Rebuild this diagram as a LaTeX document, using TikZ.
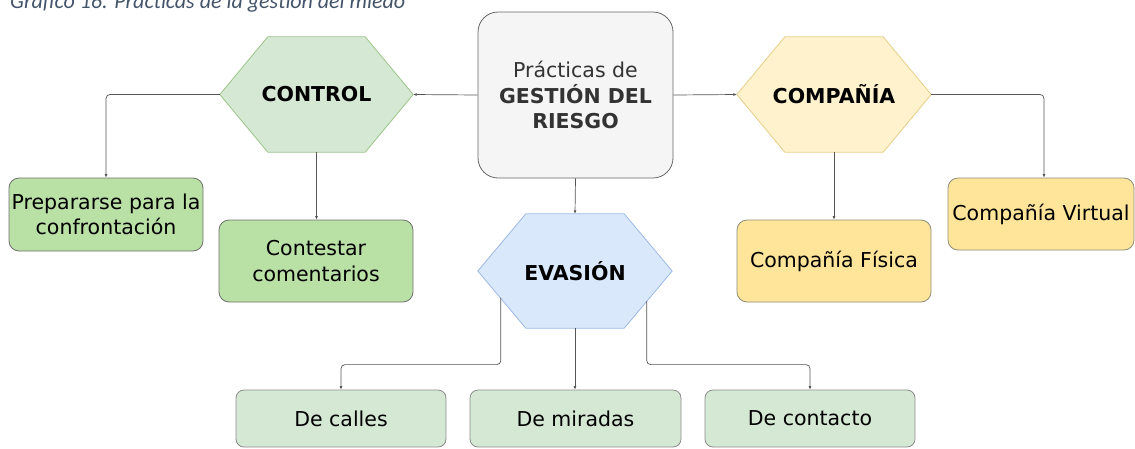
\documentclass[tikz,border=0pt]{standalone}
\usepackage{fontspec}
\setmainfont{DejaVu Sans}
\newfontfamily\titlefont{Carlito}
\usetikzlibrary{arrows.meta,calc,backgrounds}
\definecolor{centerfill}{HTML}{F5F5F5}
\definecolor{centerdraw}{HTML}{666666}
\definecolor{centertext}{HTML}{333333}
\definecolor{ctrlfill}{HTML}{D5E8D4}
\definecolor{ctrldraw}{HTML}{9CC488}
\definecolor{compfill}{HTML}{FFF2CC}
\definecolor{compdraw}{HTML}{E6CF8A}
\definecolor{evasfill}{HTML}{DAE8FC}
\definecolor{evasdraw}{HTML}{9DB9E6}
\definecolor{greenbox}{HTML}{B9E0A5}
\definecolor{greendraw}{HTML}{707070}
\definecolor{yellowbox}{HTML}{FFE599}
\definecolor{yellowdraw}{HTML}{8C8C7A}
\definecolor{lightbox}{HTML}{D5E8D4}
\definecolor{lightdraw}{HTML}{8C8C8C}
\definecolor{linec}{HTML}{555555}
\definecolor{titlec}{HTML}{44546A}
\begin{document}
\begin{tikzpicture}[x=1pt,y=-1pt,
  font=\fontsize{20.5}{25.5}\selectfont,
  box/.style={rectangle, draw, line width=0.8pt, inner sep=0pt, align=center, text=black, rounded corners=10pt},
  hexn/.style={inner sep=0pt, align=center, font=\bfseries\fontsize{20.5}{25.5}\selectfont},
  hexshape/.style={line width=0.8pt},
  conn/.style={draw=linec, line width=0.7pt, rounded corners=4pt, -{Latex[length=3.5pt,width=3pt]}}
]
\useasboundingbox (0,0) rectangle (1135,448);

% title (partly cut off at the top, as in the reference)
\node[anchor=base west, inner sep=0pt, text=titlec, font=\titlefont\itshape\fontsize{22}{22}\selectfont] (title) at (10,8) {Gráfico 16. Prácticas de la gestión del miedo};

% central box
\node[box, fill=centerfill, draw=centerdraw, text=centertext, minimum width=195pt, minimum height=166pt, rounded corners=20pt] (main) at (575.5,95) {Prácticas de\\\textbf{GESTIÓN DEL}\\\textbf{RIESGO}};

% hexagon nodes
\node[hexn, minimum width=193pt, minimum height=115pt] (ctrl) at (316.5,94.5) {CONTROL};
\node[hexn, minimum width=194pt, minimum height=115pt] (comp) at (834,94.5) {COMPAÑÍA};
\node[hexn, minimum width=194pt, minimum height=114pt] (evas) at (575,271) {EVASIÓN};

\begin{scope}[on background layer]
\foreach \n/\f/\d in {ctrl/ctrlfill/ctrldraw, comp/compfill/compdraw, evas/evasfill/evasdraw}{
  \filldraw[hexshape, fill=\f, draw=\d] (\n.west) -- ([xshift=48pt]\n.north west) -- ([xshift=-48pt]\n.north east) -- (\n.east) -- ([xshift=-48pt]\n.south east) -- ([xshift=48pt]\n.south west) -- cycle;
}
\end{scope}

% leaf boxes
\node[box, fill=greenbox, draw=greendraw, minimum width=194pt, minimum height=73pt] (prep) at (106,214.5) {Prepararse para la\\confrontación};
\node[box, fill=greenbox, draw=greendraw, minimum width=194pt, minimum height=82pt] (cont) at (316,261) {Contestar\\comentarios};
\node[box, fill=yellowbox, draw=yellowdraw, minimum width=194pt, minimum height=82pt] (fis) at (834,261) {Compañía Física};
\node[box, fill=yellowbox, draw=yellowdraw, minimum width=186pt, minimum height=72pt] (virt) at (1041,214) {Compañía Virtual};
\node[box, fill=lightbox, draw=lightdraw, minimum width=210pt, minimum height=57pt, rounded corners=8pt] (calles) at (341,418.5) {De calles};
\node[box, fill=lightbox, draw=lightdraw, minimum width=211pt, minimum height=57pt, rounded corners=8pt] (mir) at (575.5,418.5) {De miradas};
\node[box, fill=lightbox, draw=lightdraw, minimum width=210pt, minimum height=57pt, rounded corners=8pt] (cto) at (810,418.5) {De contacto};

% connector anchor points on the EVASIÓN slanted edges
\coordinate (el) at ($(evas.west)!0.47!([xshift=49pt]evas.south west)$);
\coordinate (er) at ($(evas.east)!0.52!([xshift=-49pt]evas.south east)$);

% connectors
\draw[conn] (main.west) -- (ctrl.east);
\draw[conn] (main.east) -- (comp.west);
\draw[conn] (main.south) -- (evas.north);
\draw[conn] (ctrl.west) -| (prep.north);
\draw[conn] (ctrl.south) -- (ctrl.south |- cont.north);
\draw[conn] (comp.south) -- (comp.south |- fis.north);
\draw[conn] (comp.east) -| ([xshift=3pt]virt.north);
\draw[conn] (evas.south) -- (evas.south |- mir.north);
\draw[conn] (el) |- ([yshift=25pt]calles.north) -- (calles.north);
\draw[conn] (er) |- ([yshift=25pt]cto.north) -- (cto.north);
\end{tikzpicture}
\end{document}
